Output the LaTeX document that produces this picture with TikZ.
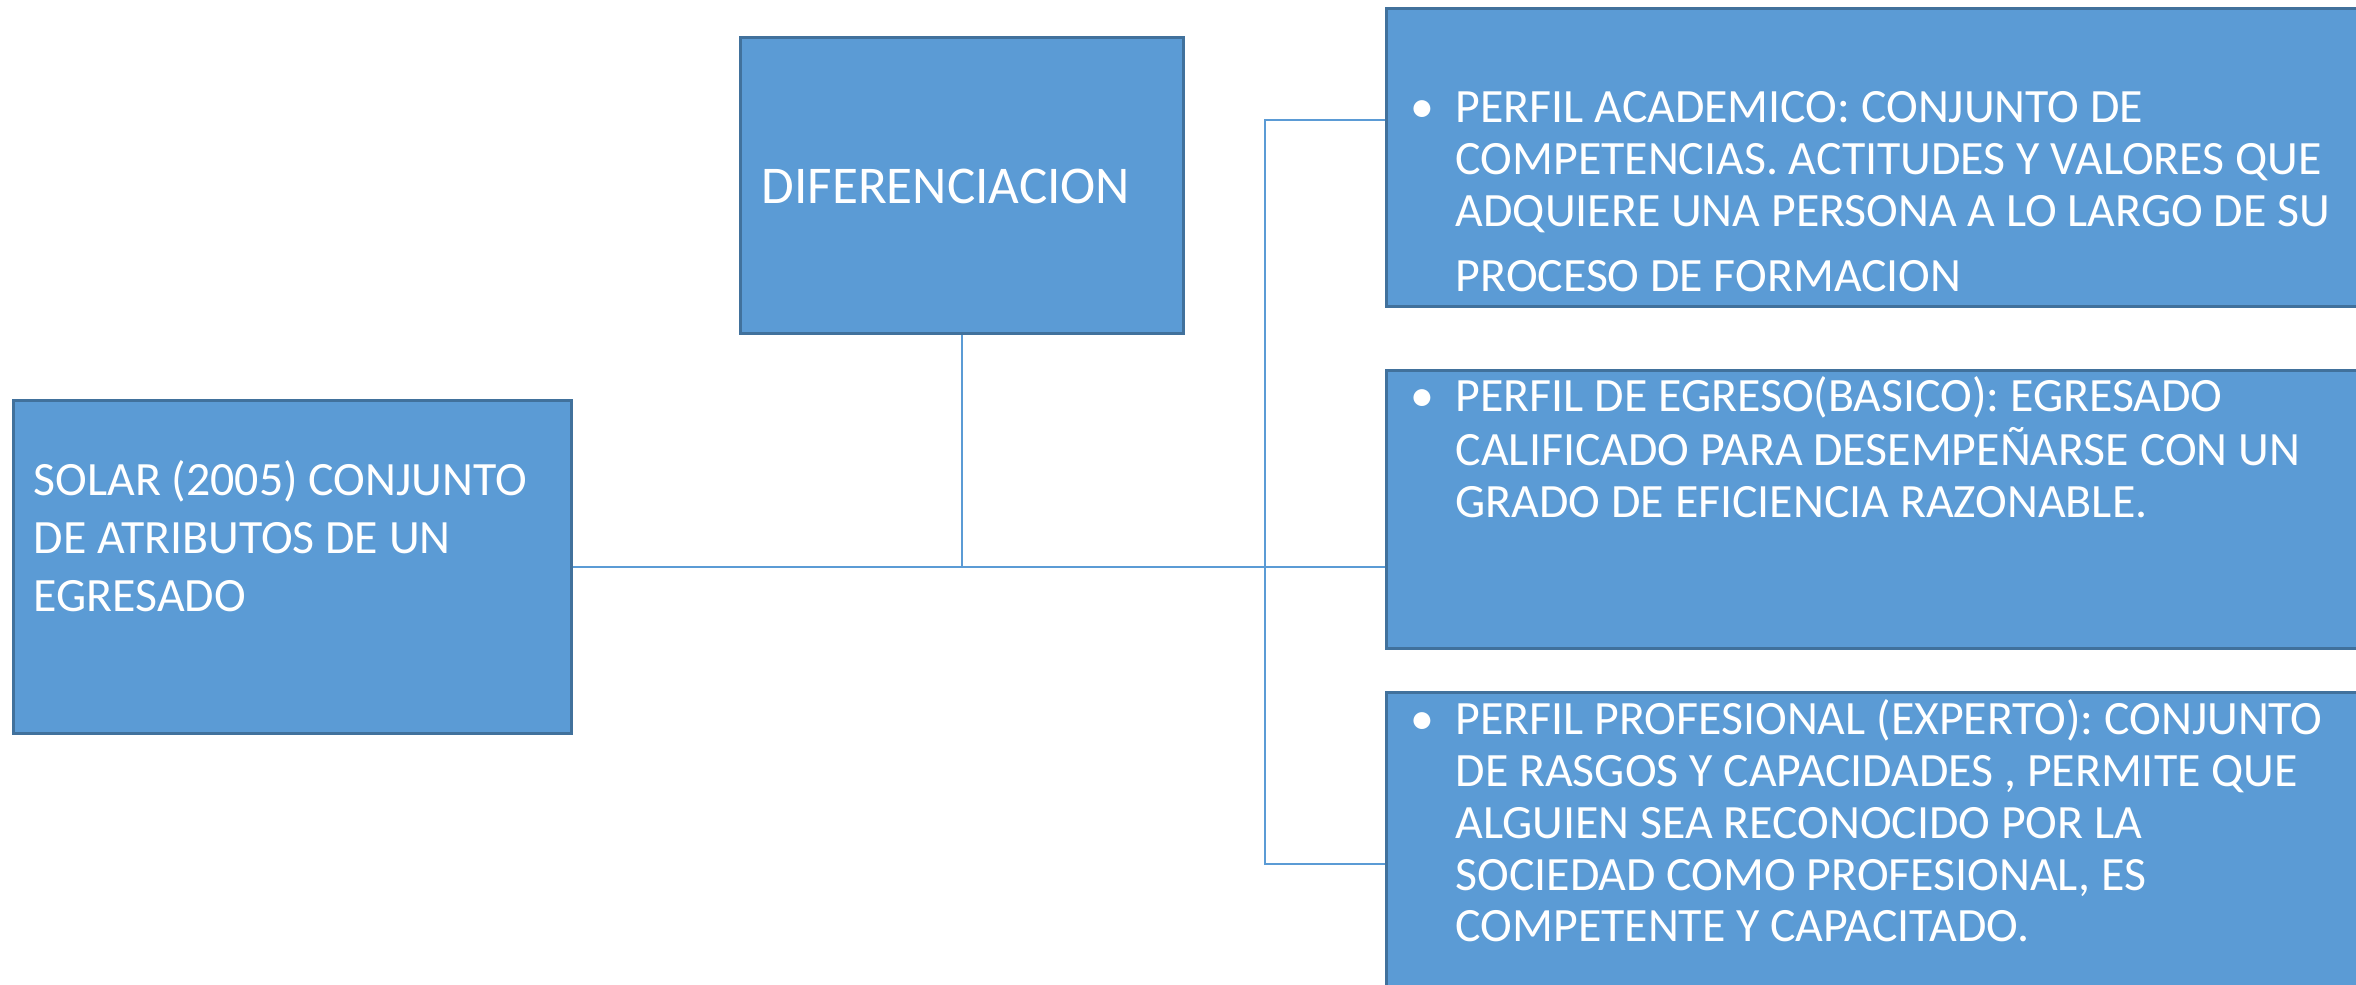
\documentclass[tikz,border=0pt]{standalone}
\usepackage{fontspec}
\setmainfont{Carlito}
\definecolor{boxblue}{HTML}{5B9BD5}
\definecolor{boxedge}{HTML}{41719C}
\tikzset{
  box/.style={draw=boxedge, line width=0.85pt, fill=boxblue, anchor=north west, inner sep=0pt},
  txt/.style={text=white, inner sep=0pt, anchor=base west},
  link/.style={draw=boxblue, line width=0.45pt}
}
\newcommand{\perfil}[1]{\fontsize{13.6}{14.7}\selectfont
  \begin{tabular}[t]{@{}p{0.45cm}@{}l@{}}\textbullet & #1\end{tabular}}
\begin{document}
\begin{tikzpicture}[x=0.01cm,y=-0.01cm]
  \clip (0,0) rectangle (2356,985);
  \fill[white] (0,0) rectangle (2356,985);
  \node[box, minimum width=5.58cm, minimum height=3.33cm] (solar) at (12,399) {};
  \node[box, minimum width=4.43cm, minimum height=2.96cm] (dif) at (739,36) {};
  \node[box, minimum width=10.4cm, minimum height=2.98cm] (acad) at (1385,7) {};
  \node[box, minimum width=10.4cm, minimum height=2.78cm] (basico) at (1385,369) {};
  \node[box, minimum width=10.4cm, minimum height=3.3cm] (prof) at (1385,691) {};

  \node[txt] (solartxt) at (33,495) {\fontsize{13.6}{16.5}\selectfont
    \begin{tabular}[t]{@{}l@{}}SOLAR (2005) CONJUNTO\\ DE ATRIBUTOS DE UN\\ EGRESADO\end{tabular}};
  \node[txt] (diftxt) at (761,204) {\fontsize{15.1}{17}\selectfont DIFERENCIACION};
  \node[txt] (acadtxt) at (1410,123) {\perfil{PERFIL ACADEMICO: CONJUNTO DE\\
    & COMPETENCIAS. ACTITUDES Y VALORES QUE\\
    & ADQUIERE UNA PERSONA A LO LARGO DE SU\\[0.13cm]
    & PROCESO DE FORMACION}};
  \node[txt] (basicotxt) at (1410,412) {\perfil{PERFIL DE EGRESO(BASICO): EGRESADO\\
    & CALIFICADO PARA DESEMPEÑARSE CON UN\\
    & GRADO DE EFICIENCIA RAZONABLE.}};
  \node[txt] (proftxt) at (1410,735) {\perfil{PERFIL PROFESIONAL (EXPERTO): CONJUNTO\\
    & DE RASGOS Y CAPACIDADES , PERMITE QUE\\
    & ALGUIEN SEA RECONOCIDO POR LA\\
    & SOCIEDAD COMO PROFESIONAL, ES\\
    & COMPETENTE Y CAPACITADO.}};

  \coordinate (up) at (1265,120);
  \coordinate (down) at (1265,864);
  \draw[link] (solar.east) -- (solar.east -| basico.west);
  \draw[link] (dif.south) -- (dif.south |- solar.east);
  \draw[link] (acad.west |- up) -- (up) -- (down) -- (prof.west |- down);
\end{tikzpicture}
\end{document}
